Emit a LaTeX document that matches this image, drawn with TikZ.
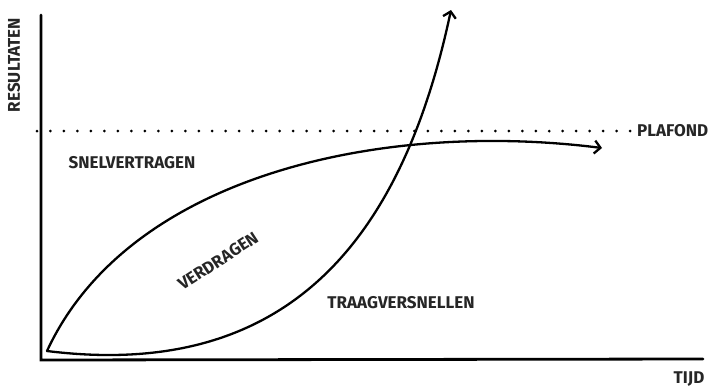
\documentclass[tikz,border=0pt]{standalone}
\usepackage{fontspec}
\setmainfont{Fira Sans}
\usetikzlibrary{arrows.meta}
\begin{document}
\begin{tikzpicture}[x=1pt,y=-1pt,
  axisline/.style={line width=2.8pt,line cap=round},
  curveline/.style={line width=2.3pt,line cap=round,-{Straight Barb[length=6pt,width=13pt,line width=2.3pt]}},
  ceiling/.style={line width=3pt,line cap=round,dash pattern=on 0pt off 13.48pt},
  lbl/.style={font=\fontsize{17}{17}\selectfont\bfseries,inner sep=0pt,text=black!85}]
\useasboundingbox (0,0) rectangle (709,389);
% axes
\coordinate (ytop) at (41,15);
\coordinate (orig) at (41,360);
\coordinate (xend) at (703,359);
\draw[axisline] (ytop) -- (orig) -- (xend);
% ceiling
\coordinate (cs) at (37,131);
\coordinate (ce) at (630.2,131);
\draw[ceiling] (cs) -- (ce);
% curves
\coordinate (o) at (47,351);
\coordinate (p) at (602,148);
\coordinate (q) at (451,10);
\draw[curveline] (o) .. controls (128,176) and (380,120) .. (p);
\draw[curveline] (o) .. controls (280,380) and (400,250) .. (q);
% labels
\node[lbl,anchor=west] (plafond) at (637,131) {PLAFOND};
\node[lbl] (snel) at (132,163) {SNELVERTRAGEN};
\node[lbl] (traag) at (401,303) {TRAAGVERSNELLEN};
\node[lbl,rotate=33] (verd) at (218,261) {VERDRAGEN};
\node[lbl] (tijd) at (689,379) {TIJD};
\node[lbl,rotate=90] (res) at (14,65) {RESULTATEN};
\end{tikzpicture}
\end{document}
